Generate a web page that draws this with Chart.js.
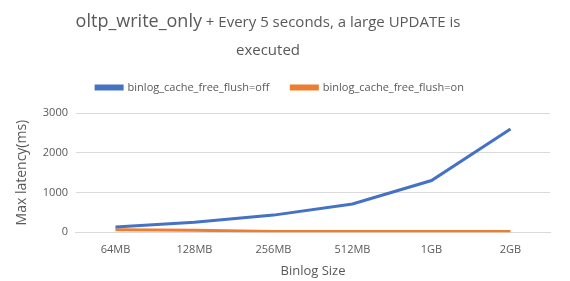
<!DOCTYPE html>
<html>
<head>
<meta charset="utf-8">
<script src="https://cdn.jsdelivr.net/npm/chart.js@4.4.1/dist/chart.umd.min.js"></script>
<style>
  html, body { margin: 0; padding: 0; background: #fff; }
  #wrap { width: 570px; height: 281px; }
</style>
</head>
<body>
<div id="wrap"><canvas id="chart"></canvas></div>
<script>
const sizes = ['64MB', '128MB', '256MB', '512MB', '1GB', '2GB'];
const flushOff = [130, 250, 430, 710, 1300, 2600];
const flushOn = [60, 50, 20, 20, 20, 20];
const yTicks = [0, 1000, 2000, 3000];

const FONT = '"Open Sans", "Noto Sans", sans-serif';
const GREY = '#595959';

// mixed size title like the Excel original
const titlePlugin = {
  id: 'mixedTitle',
  afterDraw(chart) {
    const ctx = chart.ctx;
    const cx = 268;
    const a = 'oltp_write_only';
    const b = ' + Every 5 seconds, a large UPDATE is';
    ctx.save();
    ctx.fillStyle = GREY;
    ctx.textBaseline = 'alphabetic';
    ctx.font = '18px ' + FONT;
    const wa = ctx.measureText(a).width;
    ctx.font = '15px ' + FONT;
    const wb = ctx.measureText(b).width;
    let x = cx - (wa + wb) / 2;
    ctx.textAlign = 'left';
    ctx.font = '18px ' + FONT;
    ctx.fillText(a, x, 27);
    ctx.font = '15px ' + FONT;
    ctx.fillText(b, x + wa, 27);
    ctx.textAlign = 'center';
    ctx.fillText('executed', cx, 55);
    ctx.restore();
  }
};

// extra room under the legend
const legendGap = {
  id: 'legendGap',
  beforeInit(chart) {
    const fit = chart.legend.fit;
    chart.legend.fit = function () {
      fit.call(this);
      this.height += 10;
    };
  }
};

new Chart(document.getElementById('chart'), {
  type: 'line',
  data: {
    labels: sizes,
    datasets: [
      {
        label: 'binlog_cache_free_flush=off',
        data: flushOff,
        borderColor: '#4472C4',
        backgroundColor: '#4472C4',
        borderWidth: 3,
        pointRadius: 0,
        tension: 0
      },
      {
        label: 'binlog_cache_free_flush=on',
        data: flushOn,
        borderColor: '#ED7D31',
        backgroundColor: '#ED7D31',
        borderWidth: 3,
        pointRadius: 0,
        tension: 0
      }
    ]
  },
  options: {
    responsive: true,
    maintainAspectRatio: false,
    animation: false,
    layout: { padding: { top: 60, right: 20, left: 10, bottom: 0 } },
    plugins: {
      legend: {
        position: 'top',
        labels: {
          font: { family: FONT, size: 11 },
          color: GREY,
          boxWidth: 26,
          boxHeight: 3,
          padding: 22
        }
      },
      tooltip: { enabled: false }
    },
    scales: {
      x: {
        offset: true,
        grid: { display: false },
        border: { color: '#d9d9d9' },
        ticks: { font: { family: FONT, size: 11 }, color: GREY },
        title: {
          display: true,
          text: 'Binlog Size',
          font: { family: FONT, size: 13 },
          color: GREY,
          padding: { top: 4, bottom: 2 }
        }
      },
      y: {
        min: 0,
        max: 3000,
        afterBuildTicks(axis) { axis.ticks = yTicks.map(v => ({ value: v })); },
        grid: { color: '#d9d9d9', drawTicks: false },
        border: { display: false },
        ticks: {
          font: { family: FONT, size: 11 },
          color: GREY,
          padding: 8,
          callback: v => String(v)
        },
        title: {
          display: true,
          text: 'Max latency(ms)',
          font: { family: FONT, size: 14 },
          color: GREY
        }
      }
    }
  },
  plugins: [titlePlugin, legendGap]
});
</script>
</body>
</html>
